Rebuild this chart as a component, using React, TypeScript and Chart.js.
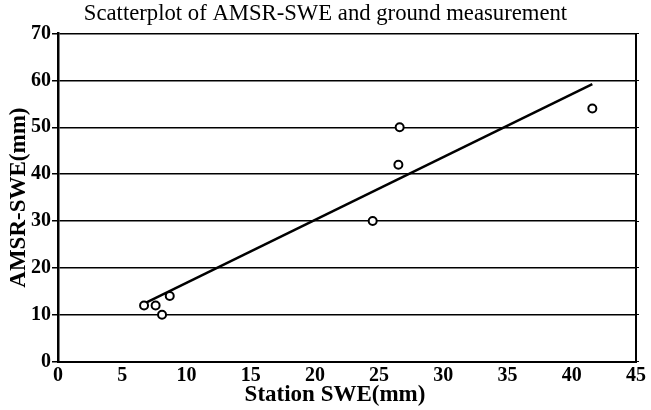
import React, { useEffect, useRef } from "react";
import { Chart, registerables } from "chart.js";

Chart.register(...registerables);

const stationSWE = [6.7, 7.6, 8.1, 8.7, 24.5, 26.5, 26.6, 41.6];
const amsrSWE = [12, 12, 10, 14, 30, 42, 50, 54];
const fitX = [6.7, 41.6];
const fitY = [12.4, 59.2];

const xTicks = [0, 5, 10, 15, 20, 25, 30, 35, 40, 45];
const yTicks = [0, 10, 20, 30, 40, 50, 60, 70];

const titleText = "Scatterplot of AMSR-SWE and ground measurement";
const xTitle = "Station SWE(mm)";
const yTitle = "AMSR-SWE(mm)";

const FONT = "'Liberation Serif', 'Times New Roman', serif";

const xTitlePlugin = {
  id: "xTitlePlugin",
  afterDraw(chart: any) {
    const ctx = chart.ctx;
    const area = chart.chartArea;
    ctx.save();
    ctx.font = `bold 23px ${FONT}`;
    ctx.fillStyle = "#000";
    ctx.textAlign = "center";
    ctx.textBaseline = "middle";
    ctx.fillText(xTitle, (area.left + area.right) / 2 - 12, 395);
    ctx.restore();
  },
};

export default function App() {
  const ref = useRef<HTMLCanvasElement>(null);

  useEffect(() => {
    if (!ref.current) return;
    const points = stationSWE.map((x, i) => ({ x, y: amsrSWE[i] }));
    const fit = fitX.map((x, i) => ({ x, y: fitY[i] }));
    const chart = new Chart(ref.current, {
      type: "scatter",
      data: {
        datasets: [
          {
            type: "scatter",
            data: points,
            pointStyle: "circle",
            pointRadius: 4,
            pointBorderWidth: 2,
            borderColor: "#000",
            backgroundColor: "#fff",
            order: 0,
          },
          {
            type: "line",
            data: fit,
            showLine: true,
            borderColor: "#000",
            borderWidth: 2.5,
            pointRadius: 0,
            fill: false,
            order: 1,
          } as any,
        ],
      },
      plugins: [xTitlePlugin],
      options: {
        responsive: false,
        animation: false,
        layout: { padding: { left: 0, right: 0, top: 0, bottom: 0 } },
        plugins: {
          legend: { display: false },
          tooltip: { enabled: false },
          title: {
            display: true,
            text: titleText,
            color: "#000",
            font: { family: FONT, size: 22.7, weight: "normal" },
            padding: { top: 0.5, bottom: 5.8 },
          },
        },
        scales: {
          x: {
            type: "linear",
            min: 0,
            max: 45,
            afterBuildTicks: (s: any) => {
              s.ticks = xTicks.map((v) => ({ value: v }));
            },
            afterFit: (s: any) => {
              s.height = 48.3;
            },
            border: { display: true, color: "#000", width: 2 },
            grid: {
              drawTicks: false,
              color: (c: any) => (c.tick && c.tick.value === 45 ? "#000" : "rgba(0,0,0,0)"),
              lineWidth: 2,
            },
            ticks: {
              color: "#000",
              padding: 2,
              maxRotation: 0,
              font: { family: FONT, size: 20, weight: "bold" },
            },
            title: { display: false },
          },
          y: {
            type: "linear",
            min: 0,
            max: 70,
            afterBuildTicks: (s: any) => {
              s.ticks = yTicks.map((v) => ({ value: v }));
            },
            afterFit: (s: any) => {
              s.width = 58;
            },
            border: { display: true, color: "#000", width: 2.5 },
            grid: {
              color: "#000",
              lineWidth: 1.5,
              drawTicks: true,
              tickLength: 6,
            },
            ticks: {
              color: "#000",
              padding: 1,
              font: { family: FONT, size: 20, weight: "bold" },
            },
            title: {
              display: true,
              text: yTitle,
              color: "#000",
              font: { family: FONT, size: 23, weight: "bold" },
              padding: { top: 5, bottom: 0 },
            },
          },
          y2: {
            type: "linear",
            position: "right",
            min: 0,
            max: 70,
            afterBuildTicks: (s: any) => {
              s.ticks = yTicks.map((v) => ({ value: v }));
            },
            afterFit: (s: any) => {
              s.width = 15;
            },
            border: { display: true, color: "#000", width: 2 },
            grid: {
              drawOnChartArea: false,
              color: "#000",
              lineWidth: 1,
              drawTicks: true,
              tickLength: 3,
            },
            ticks: { display: false },
          },
        },
      },
    });
    return () => chart.destroy();
  }, []);

  return (
    <div style={{ position: "fixed", left: 0, top: 0, width: 651, height: 410, background: "#fff" }}>
      <canvas ref={ref} width={651} height={410} style={{ display: "block" }} />
    </div>
  );
}
